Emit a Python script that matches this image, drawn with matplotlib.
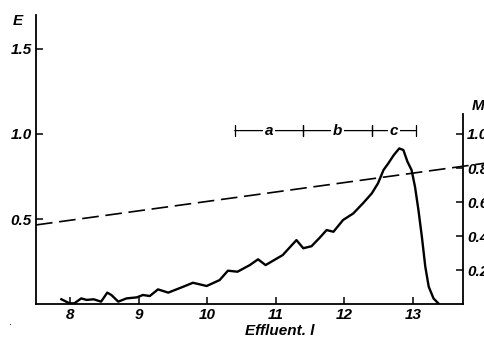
import matplotlib.pyplot as plt

plt.rcParams['font.family'] = ['Liberation Sans', 'DejaVu Sans']

# elution curve (E)
eff = [7.87, 7.99, 8.06, 8.16, 8.24, 8.34, 8.45, 8.54, 8.60, 8.70, 8.82, 8.97,
       9.06, 9.16, 9.28, 9.43, 9.65, 9.79, 9.99, 10.18, 10.30, 10.44, 10.62,
       10.74, 10.85, 11.10, 11.30, 11.40, 11.52, 11.64, 11.74, 11.84, 11.98,
       12.13, 12.27, 12.40, 12.49, 12.57, 12.64, 12.72, 12.80, 12.86, 12.92,
       12.98, 13.03, 13.08, 13.13, 13.18, 13.23, 13.30, 13.37]
E = [0.028, 0.004, 0.004, 0.033, 0.024, 0.028, 0.014, 0.067, 0.053, 0.014,
     0.033, 0.039, 0.053, 0.047, 0.086, 0.067, 0.102, 0.125, 0.106, 0.141,
     0.196, 0.190, 0.229, 0.263, 0.229, 0.288, 0.376, 0.328, 0.340, 0.390,
     0.435, 0.425, 0.494, 0.533, 0.592, 0.651, 0.710, 0.788, 0.827, 0.876,
     0.915, 0.906, 0.837, 0.788, 0.690, 0.553, 0.396, 0.220, 0.102, 0.033,
     0.004]

# molarity gradient (dashed), end points
grad_x = [7.5, 14.05]
grad_M = [0.465, 0.828]

# fraction brackets
frac_names = ['a', 'b', 'c']
frac_start = [10.4, 11.4, 12.4]
frac_end = [11.4, 12.4, 13.05]
frac_level = 1.02

xticks = [8, 9, 10, 11, 12, 13]
left_ticks = [0.5, 1.0, 1.5]
right_ticks = [0.2, 0.4, 0.6, 0.8, 1.0]

fig = plt.figure(figsize=(4.85, 3.39), dpi=100)
ax = fig.add_axes([0.0742, 0.1032, 0.8804, 0.8526])
ax.set_xlim(7.5, 13.73)
ax.set_ylim(0, 1.70)

ax.plot(eff, E, color='black', lw=1.7, solid_joinstyle='round')
ax.plot(grad_x, grad_M, color='black', lw=1.2, dashes=(10, 4), clip_on=False)

for name, s, e in zip(frac_names, frac_start, frac_end):
    ax.annotate('', xy=(s, frac_level), xytext=(e, frac_level),
                arrowprops=dict(arrowstyle='|-|', lw=0.9, color='black',
                                mutation_scale=4, shrinkA=0, shrinkB=0))
    ax.text((s + e) / 2, frac_level, name, ha='center', va='center',
            fontsize=11, style='italic', fontweight='bold',
            bbox=dict(facecolor='white', edgecolor='none', pad=1))

ax.spines['top'].set_visible(False)
ax.spines['right'].set_bounds(0, 1.12)
for sp in ax.spines.values():
    sp.set_linewidth(1.3)

tick_font = dict(fontsize=11, fontweight='bold', style='italic')
ax.set_xticks(xticks)
ax.set_xticklabels([str(v) for v in xticks], **tick_font)
ax.set_yticks(left_ticks)
ax.set_yticklabels(['%.1f' % v for v in left_ticks], **tick_font)
ax.tick_params(direction='in', length=5, width=1.1, pad=3)

ax2 = ax.twinx()
ax2.set_ylim(ax.get_ylim())
ax2.set_yticks(right_ticks)
ax2.set_yticklabels(['%.1f' % v for v in right_ticks], **tick_font)
ax2.tick_params(direction='in', length=5, width=1.1, pad=3)
for sp in ax2.spines.values():
    sp.set_visible(False)

fig.text(0.027, 0.925, 'E', **tick_font)
fig.text(0.972, 0.675, 'M', **tick_font)
ax.text(11.05, -0.115, 'Effluent. l', ha='center', va='top', **tick_font)
fig.text(0.018, 0.04, '.', fontsize=8)

fig.savefig('out.png', dpi=100)
